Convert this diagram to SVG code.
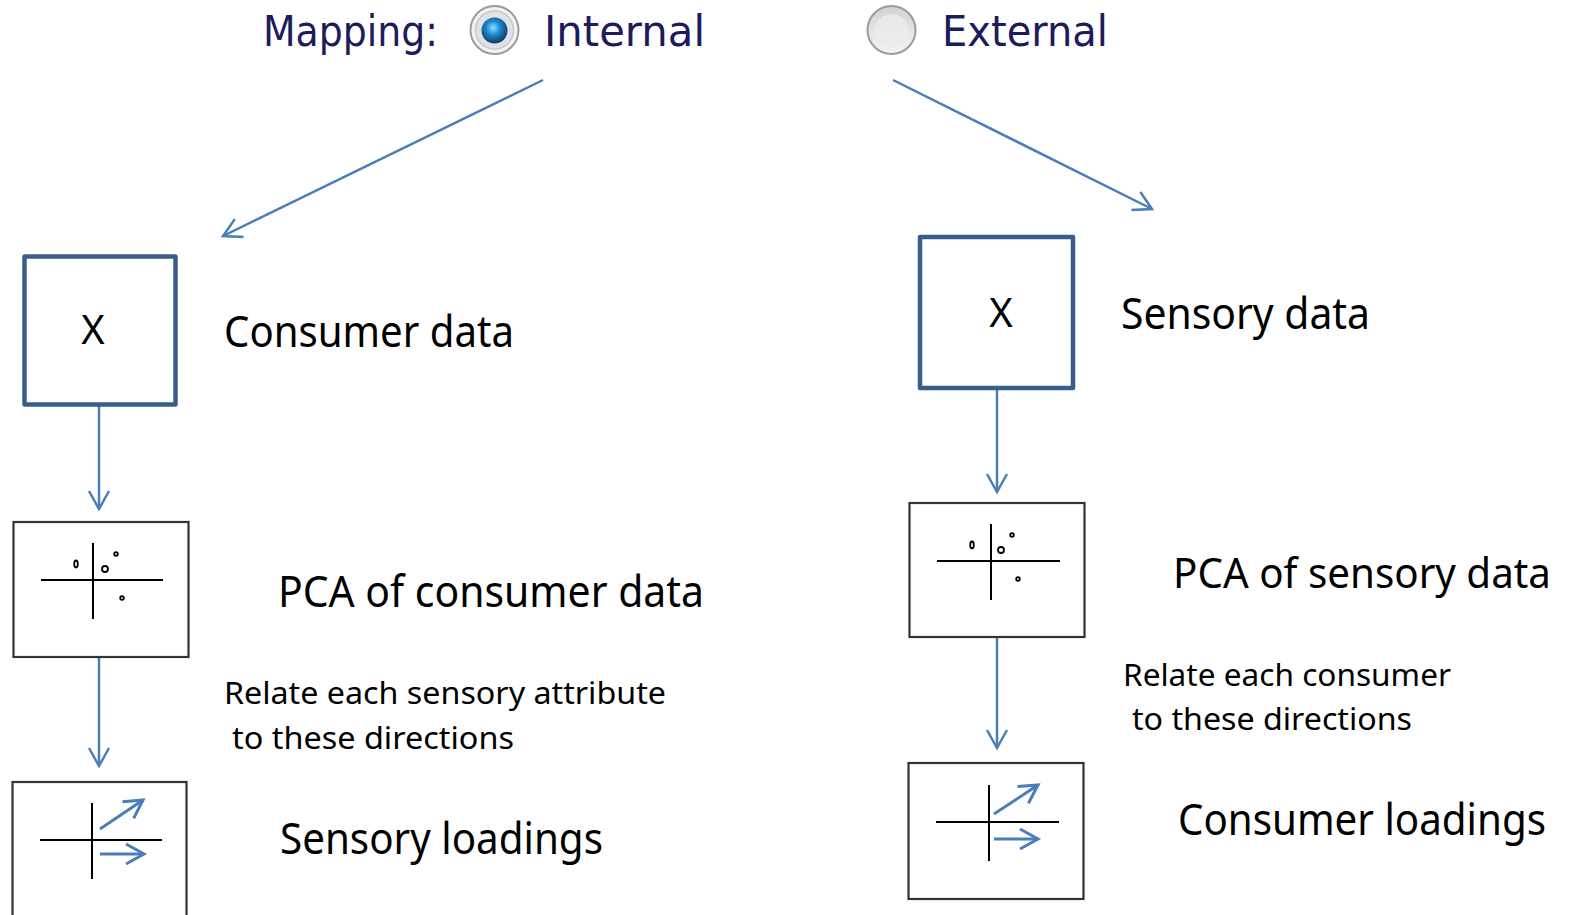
<svg xmlns="http://www.w3.org/2000/svg" width="1577" height="915" viewBox="0 0 1577 915">
<style>
.hdr{font-family:"DejaVu Sans","Liberation Sans",sans-serif;font-size:42px;fill:#1c1c5c}
.lbl{font-family:"Noto Sans","Open Sans",sans-serif;font-size:44px;fill:#000}
.sm{font-family:"Noto Sans","Open Sans",sans-serif;font-size:31px;fill:#000}
.xt{font-family:"Noto Sans","Open Sans",sans-serif;font-size:40px;fill:#000;text-anchor:middle}
.xbox{fill:#fff;stroke:#385D8A;stroke-width:4.5;stroke-linejoin:round}
.pbox{fill:#fff;stroke:#333;stroke-width:2.2}
.ax{stroke:#000;stroke-width:2;fill:none}
.dot{stroke:#000;stroke-width:1.8;fill:none}
.con{stroke:#4A7EBB;stroke-width:2.5;fill:none;marker-end:url(#ah)}
.ld{stroke:#4A7EBB;stroke-width:3;fill:none;marker-end:url(#ah2)}
</style>
<defs>
<marker id="ah" markerUnits="userSpaceOnUse" markerWidth="30" markerHeight="30" refX="20" refY="12" orient="auto">
<path d="M2,2 L20,12 L2,22" fill="none" stroke="#4A7EBB" stroke-width="2.5"/>
</marker>
<marker id="ah2" markerUnits="userSpaceOnUse" markerWidth="30" markerHeight="30" refX="20" refY="12" orient="auto">
<path d="M2,2 L20,12 L2,22" fill="none" stroke="#4A7EBB" stroke-width="3"/>
</marker>
<radialGradient id="rgOn" cx="0.45" cy="0.4" r="0.6">
<stop offset="0" stop-color="#8fe0ff"/>
<stop offset="0.45" stop-color="#1a8ad0"/>
<stop offset="1" stop-color="#16395e"/>
</radialGradient>
<linearGradient id="rgOff" x1="0" y1="0" x2="0" y2="1">
<stop offset="0" stop-color="#cfd2d6"/>
<stop offset="1" stop-color="#f4f4f4"/>
</linearGradient>
</defs>
<rect width="1577" height="915" fill="#fff"/>

<g id="header">
<text class="hdr" x="263" y="46" textLength="175" lengthAdjust="spacingAndGlyphs">Mapping:</text>
<g id="radio-internal">
<circle cx="494.5" cy="30" r="24" fill="#f2f2f2" stroke="#9c9c9c" stroke-width="2"/>
<circle cx="494.5" cy="30" r="19" fill="#dfe3e8" stroke="#c4c8cc" stroke-width="1.5"/>
<circle cx="494.5" cy="30.5" r="13" fill="url(#rgOn)"/>
</g>
<text class="hdr" x="544" y="46" textLength="161" lengthAdjust="spacingAndGlyphs">Internal</text>
<g id="radio-external">
<circle cx="891.5" cy="30" r="24" fill="url(#rgOff)" stroke="#9c9c9c" stroke-width="2"/>
<circle cx="891.5" cy="31" r="17" fill="#ececec" opacity="0.8"/>
</g>
<text class="hdr" x="942" y="46" textLength="166" lengthAdjust="spacingAndGlyphs">External</text>
</g>

<g id="connectors">
<path class="con" d="M543,80 L223,236"/>
<path class="con" d="M893,80 L1152,209"/>
<path class="con" d="M99,406 L99,509"/>
<path class="con" d="M99,646 L99,766"/>
<path class="con" d="M997,390 L997,492"/>
<path class="con" d="M997,630 L997,748"/>
</g>

<g id="consumer-data">
<rect class="xbox" x="24.5" y="256.5" width="151" height="148"/>
<text class="xt" x="93" y="344">X</text>
<text class="lbl" x="224" y="347" textLength="290" lengthAdjust="spacingAndGlyphs">Consumer data</text>
</g>

<g id="pca-consumer">
<rect class="pbox" x="13.5" y="522" width="175" height="135"/>
<line class="ax" x1="41" y1="580" x2="163" y2="580"/>
<line class="ax" x1="93" y1="543" x2="93" y2="619"/>
<ellipse class="dot" cx="76" cy="564" rx="1.8" ry="3.5"/>
<circle class="dot" cx="105" cy="569" r="3" stroke-width="2.2"/>
<circle class="dot" cx="116" cy="554" r="1.8" stroke-width="1.5"/>
<circle class="dot" cx="122" cy="598" r="1.8" stroke-width="1.5"/>
<text class="lbl" x="278" y="607" textLength="426" lengthAdjust="spacingAndGlyphs">PCA of consumer data</text>
<text class="sm" x="224" y="704" textLength="442" lengthAdjust="spacingAndGlyphs">Relate each sensory attribute</text>
<text class="sm" x="232" y="749" textLength="282" lengthAdjust="spacingAndGlyphs">to these directions</text>
</g>

<g id="sensory-loadings">
<rect class="pbox" x="12.5" y="782" width="174" height="140"/>
<line class="ax" x1="40" y1="840" x2="162" y2="840"/>
<line class="ax" x1="92" y1="803" x2="92" y2="879"/>
<path class="ld" d="M100,829 L143,800"/>
<path class="ld" d="M100,854 L144,854"/>
<text class="lbl" x="280" y="854" textLength="323" lengthAdjust="spacingAndGlyphs">Sensory loadings</text>
</g>

<g id="sensory-data">
<rect class="xbox" x="920" y="237" width="153" height="151"/>
<text class="xt" x="1001" y="327">X</text>
<text class="lbl" x="1121" y="329" textLength="249" lengthAdjust="spacingAndGlyphs">Sensory data</text>
</g>

<g id="pca-sensory">
<rect class="pbox" x="909.5" y="503" width="175" height="134"/>
<line class="ax" x1="937" y1="561" x2="1060" y2="561"/>
<line class="ax" x1="991" y1="524" x2="991" y2="600"/>
<ellipse class="dot" cx="972" cy="545" rx="1.8" ry="3.5"/>
<circle class="dot" cx="1001" cy="550" r="3" stroke-width="2.2"/>
<circle class="dot" cx="1012" cy="535" r="1.8" stroke-width="1.5"/>
<circle class="dot" cx="1018" cy="579" r="1.8" stroke-width="1.5"/>
<text class="lbl" x="1173" y="588" style="font-size:42px" textLength="378" lengthAdjust="spacingAndGlyphs">PCA of sensory data</text>
<text class="sm" x="1123" y="686" textLength="328" lengthAdjust="spacingAndGlyphs">Relate each consumer</text>
<text class="sm" x="1132" y="730" textLength="280" lengthAdjust="spacingAndGlyphs">to these directions</text>
</g>

<g id="consumer-loadings">
<rect class="pbox" x="908.5" y="763" width="175" height="136"/>
<line class="ax" x1="936" y1="822" x2="1059" y2="822"/>
<line class="ax" x1="989" y1="785" x2="989" y2="861"/>
<path class="ld" d="M994,814 L1038,785"/>
<path class="ld" d="M994,839 L1038,839"/>
<text class="lbl" x="1178" y="835" textLength="368" lengthAdjust="spacingAndGlyphs">Consumer loadings</text>
</g>
</svg>
